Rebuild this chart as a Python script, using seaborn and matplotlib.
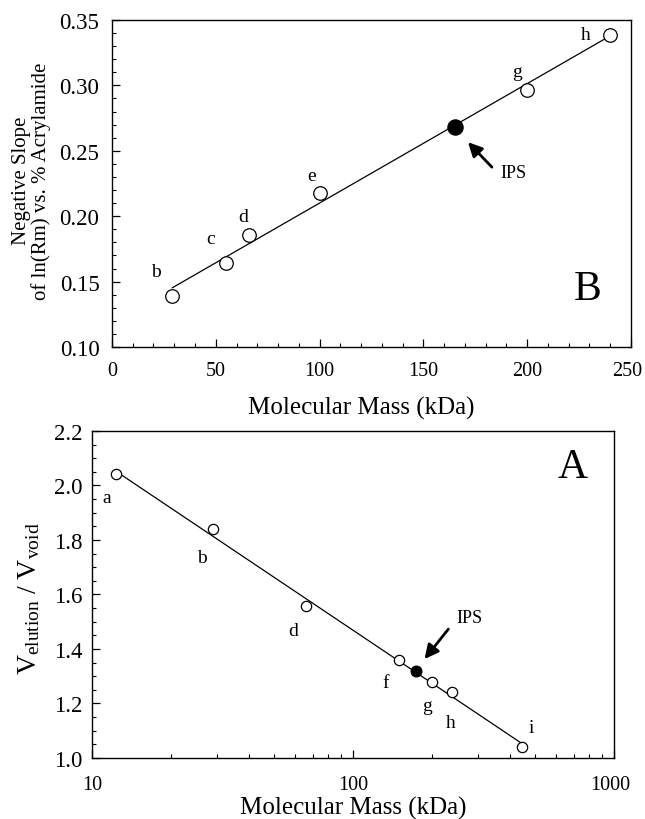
import numpy as np
import pandas as pd
import matplotlib
matplotlib.use("Agg")
import matplotlib.pyplot as plt
from matplotlib.ticker import MultipleLocator, FixedLocator, FixedFormatter, LogLocator, NullFormatter
from matplotlib.transforms import ScaledTranslation
import seaborn as sns

# ---- Panel B (top) data ----
b_labels = ["b", "c", "d", "e", "g", "h"]
b_mass = [29, 55, 66, 100, 200, 240]
b_slope = [0.139, 0.1645, 0.186, 0.218, 0.2965, 0.3385]
b_ips_mass = [165]
b_ips_slope = [0.2685]
b_label_x = [21, 47.5, 63, 96, 195, 228]
b_label_y = [0.158, 0.183, 0.200, 0.231, 0.311, 0.339]
b_yticks = [0.10, 0.15, 0.20, 0.25, 0.30, 0.35]
b_xticks = [0, 50, 100, 150, 200, 250]

# ---- Panel A (bottom) data ----
a_labels = ["a", "b", "d", "f", "g", "h", "i"]
a_mass = [12.4, 29, 66, 150, 200, 240, 443]
a_ratio = [2.041, 1.840, 1.557, 1.361, 1.280, 1.241, 1.040]
a_ips_mass = [174]
a_ips_ratio = [1.318]
a_label_x = [11.4, 26.4, 58.9, 133.6, 192, 237, 483]
a_label_y = [1.956, 1.736, 1.467, 1.278, 1.193, 1.132, 1.113]
a_yticks = [1.0, 1.2, 1.4, 1.6, 1.8, 2.0, 2.2]
a_xticks = [10, 100, 1000]

sns.set_theme(style="white")
plt.rcParams["font.family"] = ["Liberation Serif", "DejaVu Serif"]
plt.rcParams["mathtext.fontset"] = "custom"
plt.rcParams["mathtext.rm"] = "Liberation Serif"
plt.rcParams["mathtext.it"] = "Liberation Serif:italic"
plt.rcParams["text.color"] = "black"
plt.rcParams["axes.labelcolor"] = "black"
plt.rcParams["xtick.color"] = "black"
plt.rcParams["ytick.color"] = "black"

fig = plt.figure(figsize=(6.45, 8.2), dpi=100)
axB = fig.add_axes([0.1736, 0.5756, 0.8047, 0.3988])
axA = fig.add_axes([0.1426, 0.0744, 0.8093, 0.3988])

dfB = pd.DataFrame({"mass": b_mass, "slope": b_slope})
dfA = pd.DataFrame({"mass": a_mass, "ratio": a_ratio})

ytick_fs = 16.5
xtick_fs = 14.5
pt_fs = 14

# ---------- Panel B ----------
sns.regplot(data=dfB, x="mass", y="slope", ax=axB, scatter=False, ci=None,
            line_kws=dict(color="black", lw=0.9))
sns.scatterplot(data=dfB, x="mass", y="slope", ax=axB, s=95, marker="o",
                facecolor="white", edgecolor="black", linewidth=0.9, zorder=3)
sns.scatterplot(x=b_ips_mass, y=b_ips_slope, ax=axB, s=120, marker="o",
                color="black", edgecolor="black", linewidth=0.9, zorder=4)
for t, x, y in zip(b_labels, b_label_x, b_label_y):
    axB.text(x, y, t, fontsize=pt_fs, ha="center", va="center")
axB.annotate("", xy=(171.5, 0.2566), xytext=(183, 0.2375),
             arrowprops=dict(arrowstyle="-|>,head_length=0.7,head_width=0.35",
                             color="black", lw=2.0, shrinkA=0, shrinkB=0))
axB.text(187, 0.2336, "IPS", fontsize=13, ha="left", va="center")
axB.text(229, 0.1443, "B", fontsize=30, ha="center", va="center")

axB.set_xlim(0, 250)
axB.set_ylim(0.10, 0.35)
axB.set_xticks(b_xticks)
axB.set_xticklabels([str(v) for v in b_xticks])
axB.set_yticks(b_yticks)
axB.set_yticklabels([f"{v:.2f}" for v in b_yticks])
axB.xaxis.set_minor_locator(MultipleLocator(10))
axB.yaxis.set_minor_locator(MultipleLocator(0.01))
axB.set_xlabel("Molecular Mass (kDa)", fontsize=18)
axB.set_ylabel("Negative Slope\nof ln(Rm) vs. % Acrylamide", fontsize=15,
               linespacing=1.0)
axB.xaxis.set_label_coords(0.48, -0.15)
axB.yaxis.set_label_coords(-0.118, 0.511)

# ---------- Panel A ----------
sns.regplot(data=dfA, x="mass", y="ratio", ax=axA, scatter=False, ci=None,
            logx=True, line_kws=dict(color="black", lw=0.9))
sns.scatterplot(data=dfA, x="mass", y="ratio", ax=axA, s=55, marker="o",
                facecolor="white", edgecolor="black", linewidth=0.9, zorder=3)
sns.scatterplot(x=a_ips_mass, y=a_ips_ratio, ax=axA, s=60, marker="o",
                color="black", edgecolor="black", linewidth=0.9, zorder=4)
axA.set_xscale("log")
for t, x, y in zip(a_labels, a_label_x, a_label_y):
    axA.text(x, y, t, fontsize=pt_fs, ha="center", va="center")
axA.annotate("", xy=(188, 1.363), xytext=(232, 1.473),
             arrowprops=dict(arrowstyle="-|>,head_length=0.7,head_width=0.35",
                             color="black", lw=2.0, shrinkA=0, shrinkB=0))
axA.text(280, 1.515, "IPS", fontsize=13, ha="center", va="center")
axA.text(696, 2.068, "A", fontsize=30, ha="center", va="center")

axA.set_xlim(10, 1000)
axA.set_ylim(1.0, 2.2)
axA.xaxis.set_major_locator(FixedLocator(a_xticks))
axA.xaxis.set_major_formatter(FixedFormatter([str(v) for v in a_xticks]))
axA.xaxis.set_minor_locator(LogLocator(base=10, subs=np.arange(2, 10)))
axA.xaxis.set_minor_formatter(NullFormatter())
axA.set_yticks(a_yticks)
axA.set_yticklabels([f"{v:.1f}" for v in a_yticks])
axA.yaxis.set_minor_locator(MultipleLocator(0.05))
axA.set_xlabel("Molecular Mass (kDa)", fontsize=18)
axA.set_ylabel(r"$\mathregular{V_{elution}\ /\ V_{void}}$", fontsize=20)
axA.xaxis.set_label_coords(0.5, -0.115)
axA.yaxis.set_label_coords(-0.095, 0.49)

for ax in (axB, axA):
    for s in ax.spines.values():
        s.set_visible(True)
        s.set_color("black")
        s.set_linewidth(1.0)
    ax.tick_params(which="major", direction="in", length=6, width=0.9,
                   left=True, bottom=True, top=False, right=False)
    ax.tick_params(which="minor", direction="in", length=3, width=0.8,
                   left=True, bottom=True, top=False, right=False)
    ax.tick_params(axis="y", labelsize=ytick_fs)
    ax.tick_params(axis="x", labelsize=xtick_fs)
    ax.grid(False)
axB.tick_params(axis="y", which="major", pad=9)
axB.tick_params(axis="x", which="major", pad=10)
axA.tick_params(axis="y", which="major", pad=7)
axA.tick_params(axis="x", which="major", pad=12)

# nudge the last tick labels so they stay inside the figure
for ax in (axB, axA):
    last = ax.get_xticklabels()[-1]
    last.set_transform(last.get_transform() + ScaledTranslation(-3 / 72, 0, fig.dpi_scale_trans))

fig.savefig("out.png", dpi=100, facecolor="white")
